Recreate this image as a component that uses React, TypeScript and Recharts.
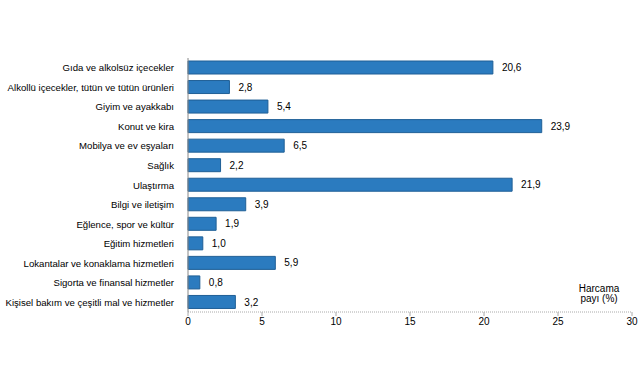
import { Bar, BarChart, LabelList, XAxis, YAxis, Label } from 'recharts';

const categories = [
  'Gıda ve alkolsüz içecekler',
  'Alkollü içecekler, tütün ve tütün ürünleri',
  'Giyim ve ayakkabı',
  'Konut ve kira',
  'Mobilya ve ev eşyaları',
  'Sağlık',
  'Ulaştırma',
  'Bilgi ve iletişim',
  'Eğlence, spor ve kültür',
  'Eğitim hizmetleri',
  'Lokantalar ve konaklama hizmetleri',
  'Sigorta ve finansal hizmetler',
  'Kişisel bakım ve çeşitli mal ve hizmetler',
];

const shares = [20.6, 2.8, 5.4, 23.9, 6.5, 2.2, 21.9, 3.9, 1.9, 1.0, 5.9, 0.8, 3.2];

const xTicks = [0, 5, 10, 15, 20, 25, 30];

const data = categories.map((name, i) => ({ name, pay: shares[i] }));

const FONT = '"Liberation Sans", Arial, sans-serif';

// Turkish decimal comma
const fmt = (v: number) => v.toFixed(1).replace('.', ',');

// single line tick, no wrapping
const CategoryTick = (props: any) => {
  const { x, y, payload } = props;
  return (
    <text x={x} y={y} dy={3.5} textAnchor="end" fontSize={9.6} fill="#000" fontFamily={FONT}>
      {payload.value}
    </text>
  );
};

export default function App() {
  return (
    <div style={{ position: 'absolute', left: 0, top: 0, width: 641, height: 380, background: '#fff', fontFamily: FONT }}>
      <BarChart
        width={641}
        height={380}
        data={data}
        layout="vertical"
        margin={{ top: 58, right: 9, left: 0, bottom: 38 }}
        barCategoryGap={3}
      >
        <XAxis
          type="number"
          domain={[0, 30]}
          ticks={xTicks}
          interval={0}
          axisLine={{ stroke: '#aaa', strokeDasharray: '1 1' }}
          tickLine={{ stroke: '#aaa' }}
          tickSize={4}
          tick={{ fontSize: 10, fill: '#000', fontFamily: FONT }}
          height={30}
        >
          <Label
            content={() => (
              <text x={599} y={292} textAnchor="middle" fontSize={10} fill="#000" fontFamily={FONT}>
                <tspan x={599} dy={0}>Harcama</tspan>
                <tspan x={599} dy={10}>payı (%)</tspan>
              </text>
            )}
          />
        </XAxis>
        <YAxis
          type="category"
          dataKey="name"
          width={188}
          axisLine={{ stroke: '#888' }}
          tickLine={false}
          tickMargin={8}
          tick={<CategoryTick />}
          interval={0}
        />
        <Bar dataKey="pay" fill="#2b7bbf" stroke="#1f5f96" strokeWidth={1} barSize={13} isAnimationActive={false}>
          <LabelList
            dataKey="pay"
            position="right"
            offset={9}
            formatter={(v: any) => fmt(Number(v))}
            style={{ fontSize: 10, fill: '#000', fontFamily: FONT }}
          />
        </Bar>
      </BarChart>
    </div>
  );
}
